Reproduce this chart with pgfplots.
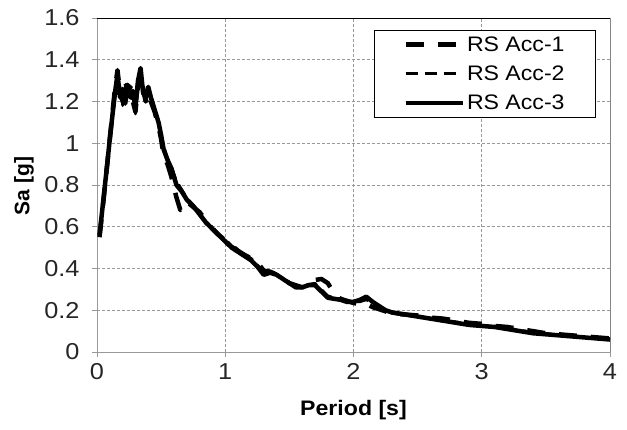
\documentclass[border=0pt]{standalone}
\usepackage{fontspec}
\setmainfont[FakeStretch=1.1]{Liberation Sans}
\newfontfamily\plainsans{Liberation Sans}
\usepackage{pgfplots}
\pgfplotsset{compat=1.18}
\newcommand{\tickfont}{\fontsize{23}{27}\selectfont}
\newcommand{\labfont}{\fontsize{21}{25}\selectfont}

\begin{document}
\begin{tikzpicture}
\begin{axis}[
    scale only axis,
    width=513pt, height=334pt,
    xmin=0, xmax=4, ymin=0, ymax=1.6,
    xtick={0,1,2,3,4},
    ytick={0,0.2,0.4,0.6,0.8,1,1.2,1.4,1.6},
    xticklabels={0,1,2,3,4},
    yticklabels={0,0.2,0.4,0.6,0.8,1,1.2,1.4,1.6},
    xticklabel style={font=\tickfont, text=black!85, yshift=-3pt},
    yticklabel style={font=\tickfont, text=black!85, xshift=-9pt},
    xlabel={\textbf{Period [s]}},
    ylabel={\plainsans\bfseries Sa [g]},
    label style={font=\labfont},
    xlabel style={at={(axis description cs:0.5,-0.174)}, anchor=center},
    ylabel style={at={(axis description cs:-0.142,0.497)}, anchor=center},
    grid=major,
    major grid style={gray!80, line width=0.8pt, dash pattern=on 3pt off 2pt},
    axis line style={gray!80, line width=0.9pt},
    tick style={gray!80, line width=0.9pt},
    tick align=outside,
    major tick length=5pt,
    xtick pos=left, ytick pos=left,
    legend style={at={(0.9727,0.964)}, anchor=north east, draw=black, line width=0.9pt,
        font=\labfont, row sep=9pt, inner xsep=29pt, inner ysep=4pt,
        nodes={inner sep=2pt}},
    legend cell align={left},
    legend image code/.code={\draw[#1] (0pt,0pt) -- (57pt,0pt);},
]
% RS Acc-1
\addplot[black, line width=4.5pt, dash pattern=on 18pt off 14pt, line join=round] coordinates {
(0.02,0.55) (0.05,0.72) (0.08,0.90) (0.10,1.02) (0.12,1.14) (0.14,1.26) (0.16,1.35)
(0.18,1.24) (0.20,1.20) (0.22,1.30) (0.24,1.24) (0.26,1.27) (0.28,1.20) (0.30,1.15)
(0.32,1.28) (0.34,1.34) (0.36,1.26) (0.38,1.20) (0.40,1.24) (0.42,1.20) (0.45,1.15)
(0.48,1.08) (0.50,1.02) (0.52,0.94) (0.55,0.90) (0.58,0.84) (0.62,0.74) (0.65,0.68)
(0.68,0.72) (0.72,0.71) (0.76,0.69) (0.80,0.67) (0.85,0.63) (0.90,0.59) (0.95,0.56)
(1.00,0.535) (1.05,0.51) (1.10,0.485) (1.15,0.465) (1.20,0.45) (1.25,0.43) (1.30,0.39)
(1.35,0.385) (1.40,0.37) (1.45,0.35) (1.50,0.33) (1.55,0.32) (1.60,0.31) (1.65,0.32)
(1.70,0.345) (1.75,0.35) (1.80,0.33) (1.85,0.28) (1.90,0.255) (1.95,0.245) (2.00,0.235)
(2.05,0.23) (2.10,0.23) (2.15,0.215) (2.20,0.205) (2.25,0.195) (2.30,0.185) (2.40,0.18)
(2.50,0.175) (2.60,0.165) (2.70,0.16) (2.80,0.15) (2.90,0.14) (3.00,0.135) (3.10,0.125)
(3.20,0.12) (3.30,0.11) (3.40,0.10) (3.50,0.09) (3.60,0.085) (3.70,0.08) (3.80,0.075)
(3.90,0.07) (4.00,0.065)
};
% RS Acc-2
\addplot[black, line width=2.5pt, dash pattern=on 12pt off 7pt, line join=round] coordinates {
(0.02,0.57) (0.05,0.74) (0.08,0.91) (0.10,1.03) (0.12,1.14) (0.14,1.25) (0.16,1.30)
(0.18,1.27) (0.20,1.18) (0.22,1.27) (0.24,1.30) (0.26,1.20) (0.28,1.23) (0.30,1.14)
(0.32,1.25) (0.34,1.32) (0.36,1.28) (0.38,1.18) (0.40,1.26) (0.42,1.23) (0.45,1.17)
(0.48,1.11) (0.50,1.05) (0.52,0.99) (0.55,0.93) (0.58,0.89) (0.62,0.82) (0.66,0.78)
(0.70,0.74) (0.75,0.705) (0.80,0.665) (0.85,0.625) (0.90,0.60) (0.95,0.565) (1.00,0.54)
(1.05,0.51) (1.10,0.49) (1.15,0.47) (1.20,0.45) (1.25,0.42) (1.30,0.38) (1.35,0.39)
(1.40,0.375) (1.45,0.355) (1.50,0.335) (1.55,0.315) (1.60,0.315) (1.65,0.325) (1.70,0.33)
(1.75,0.30) (1.80,0.27) (1.85,0.26) (1.90,0.255) (1.95,0.245) (2.00,0.24) (2.05,0.24)
(2.10,0.25) (2.15,0.23) (2.20,0.21) (2.25,0.195) (2.30,0.185) (2.40,0.175) (2.50,0.17)
(2.60,0.16) (2.70,0.15) (2.80,0.145) (2.90,0.135) (3.00,0.13) (3.10,0.12) (3.20,0.115)
(3.30,0.105) (3.40,0.095) (3.50,0.09) (3.60,0.08) (3.70,0.075) (3.80,0.07) (3.90,0.065)
(4.00,0.06)
};
% RS Acc-3
\addplot[black, line width=4.5pt, line join=round] coordinates {
(0.02,0.56) (0.05,0.73) (0.08,0.90) (0.10,1.02) (0.12,1.13) (0.14,1.24) (0.16,1.33)
(0.18,1.22) (0.20,1.26) (0.22,1.19) (0.24,1.28) (0.26,1.22) (0.28,1.25) (0.30,1.17)
(0.32,1.30) (0.34,1.36) (0.36,1.24) (0.38,1.22) (0.40,1.27) (0.42,1.22) (0.45,1.16)
(0.48,1.10) (0.50,1.04) (0.52,0.97) (0.55,0.92) (0.58,0.88) (0.62,0.80) (0.66,0.77)
(0.70,0.73) (0.75,0.70) (0.80,0.66) (0.85,0.62) (0.90,0.59) (0.95,0.56) (1.00,0.53)
(1.05,0.50) (1.10,0.48) (1.15,0.46) (1.20,0.44) (1.25,0.41) (1.30,0.37) (1.35,0.38)
(1.40,0.37) (1.45,0.35) (1.50,0.33) (1.55,0.31) (1.60,0.31) (1.65,0.32) (1.70,0.32)
(1.75,0.29) (1.80,0.26) (1.85,0.255) (1.90,0.25) (1.95,0.24) (2.00,0.24) (2.05,0.25)
(2.10,0.265) (2.15,0.24) (2.20,0.22) (2.25,0.20) (2.30,0.19) (2.40,0.18) (2.50,0.17)
(2.60,0.16) (2.70,0.15) (2.80,0.14) (2.90,0.13) (3.00,0.125) (3.10,0.12) (3.20,0.11)
(3.30,0.10) (3.40,0.09) (3.50,0.085) (3.60,0.08) (3.70,0.075) (3.80,0.07) (3.90,0.065)
(4.00,0.06)
};
\legend{RS Acc-1,RS Acc-2,RS Acc-3}
\draw[black, line width=0.9pt] (rel axis cs:0,1) -- (rel axis cs:1,1) -- (rel axis cs:1,0);
\coordinate (bbsw) at (rel axis cs:-0.189,-0.2305);
\coordinate (bbne) at (rel axis cs:1.0331,1.0539);
\end{axis}
\path (bbsw) (bbne);
\end{tikzpicture}
\end{document}
